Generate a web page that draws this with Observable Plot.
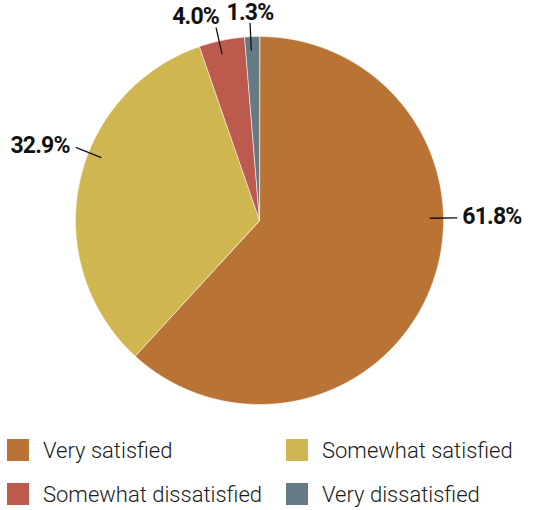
<!DOCTYPE html>
<html>
<head>
<meta charset="utf-8">
<script src="https://cdn.jsdelivr.net/npm/d3@7"></script>
<script src="https://cdn.jsdelivr.net/npm/@observablehq/plot@0.6"></script>
<style>
  html, body { margin: 0; padding: 0; background: #fff; }
  #wrap { position: relative; width: 536px; height: 510px; font-family: Roboto, "Noto Sans", sans-serif; }
  #chart svg { display: block; overflow: visible; }
  #chart svg text { letter-spacing: -0.8px; }
  .legend { position: absolute; left: 0; top: 428px; width: 536px; }
  .item { position: absolute; display: flex; align-items: center; height: 44px; font-size: 22px; font-weight: 300; color: #1a1a1a; white-space: nowrap; }
  .sw { width: 22px; height: 22px; margin-right: 14px; flex: none; }
</style>
</head>
<body>
<div id="wrap">
  <div id="chart"></div>
  <div class="legend" id="legend"></div>
</div>
<script>
// ---- data ----
const categories = ["Very satisfied", "Somewhat satisfied", "Somewhat dissatisfied", "Very dissatisfied"];
const shares = [61.8, 32.9, 4.0, 1.3];
const labels = ["61.8%", "32.9%", "4.0%", "1.3%"];
const colors = ["#B97435", "#CFB651", "#BC5A4E", "#667A85"];

// ---- layout tweaks (label leader angle offsets in degrees, label placement) ----
const labelShift = [-22, 10, -0.8, -0.4];
const placement = ["right", "left", "topleft", "top"];

const pie = d3.pie().sort(null).value(d => d.share)(categories.map((c, i) => ({cat: c, share: shares[i]})));

// slice polygons (unit circle, y up)
const polys = [];
pie.forEach(p => {
  const key = p.data.cat;
  polys.push({key, x: 0, y: 0});
  const n = Math.max(4, Math.ceil((p.endAngle - p.startAngle) / (Math.PI / 720)));
  for (let k = 0; k <= n; k++) {
    const a = p.startAngle + (p.endAngle - p.startAngle) * k / n;
    polys.push({key, x: Math.sin(a), y: Math.cos(a)});
  }
});

const rIn = 0.925, rOut = 1.075;
const lab = pie.map((p, i) => {
  const a = (p.startAngle + p.endAngle) / 2 + labelShift[i] * Math.PI / 180;
  return {
    label: labels[i], place: placement[i],
    x1: rIn * Math.sin(a), y1: rIn * Math.cos(a),
    x2: rOut * Math.sin(a), y2: rOut * Math.cos(a)
  };
});

const textBase = {x: "x2", y: "y2", text: "label", fontSize: 23, fontWeight: 700, fill: "#111"};

const chart = Plot.plot({
  width: 536,
  height: 424,
  marginLeft: 75,
  marginRight: 93,
  marginTop: 36,
  marginBottom: 20,
  style: {fontFamily: "Roboto, 'Noto Sans', sans-serif", background: "#fff", overflow: "visible"},
  x: {domain: [-1, 1], axis: null},
  y: {domain: [-1, 1], axis: null},
  color: {domain: categories, range: colors},
  marks: [
    Plot.line(polys, {x: "x", y: "y", z: "key", fill: "key", stroke: "#fff", strokeWidth: 0.6, curve: "linear-closed"}),
    Plot.link(lab, {x1: "x1", y1: "y1", x2: "x2", y2: "y2", stroke: "#111", strokeWidth: 1.3}),
    Plot.text(lab.filter(d => d.place === "right"), {...textBase, textAnchor: "start", lineAnchor: "middle", dx: 5, dy: -1}),
    Plot.text(lab.filter(d => d.place === "left"), {...textBase, textAnchor: "end", lineAnchor: "middle", dx: -6, dy: -2}),
    Plot.text(lab.filter(d => d.place === "topleft"), {...textBase, textAnchor: "end", lineAnchor: "bottom", dx: 3, dy: -4}),
    Plot.text(lab.filter(d => d.place === "top"), {...textBase, textAnchor: "middle", lineAnchor: "bottom", dx: 0, dy: -3})
  ]
});
document.getElementById("chart").appendChild(chart);

// ---- legend ----
const legend = document.getElementById("legend");
const colX = [7, 286];
categories.forEach((c, i) => {
  const it = document.createElement("div");
  it.className = "item";
  it.style.left = colX[i % 2] + "px";
  it.style.top = (Math.floor(i / 2) * 44) + "px";
  const sw = document.createElement("span");
  sw.className = "sw";
  sw.style.background = colors[i];
  const t = document.createElement("span");
  t.textContent = c;
  it.appendChild(sw);
  it.appendChild(t);
  legend.appendChild(it);
});
</script>
</body>
</html>
